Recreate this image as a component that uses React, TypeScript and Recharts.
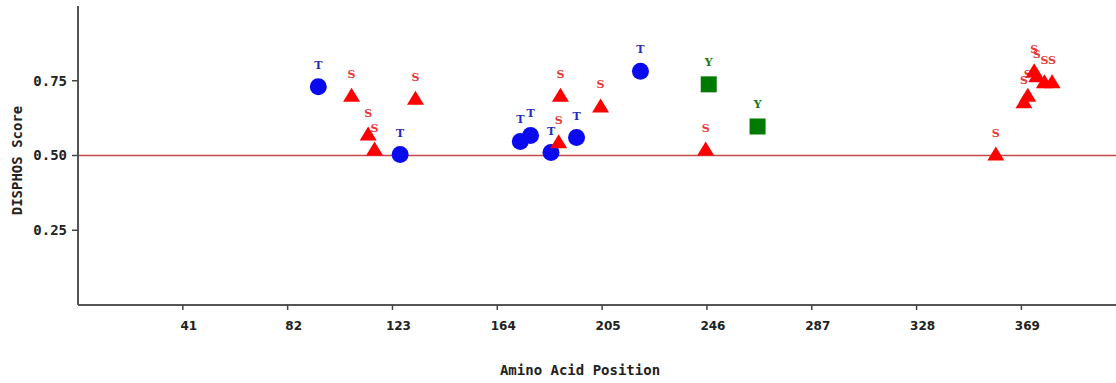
import React from 'react';
import { ScatterChart, Scatter, XAxis, YAxis, ReferenceLine, Label } from 'recharts';

// tick labels
const xTicks = [41, 82, 123, 164, 205, 246, 287, 328, 369];
const yTicks = [0.25, 0.5, 0.75];

// threonine (T) sites
const thrPositions = [94, 126, 173, 177, 185, 195, 220];
const thrScores = [0.73, 0.503, 0.547, 0.567, 0.51, 0.56, 0.782];

// serine (S) sites
const serPositions = [107, 113.5, 116, 132, 188, 188.7, 204.4, 245.5, 359, 370, 371.5, 374, 375, 378, 381];
const serScores = [0.7, 0.57, 0.52, 0.69, 0.544, 0.7, 0.664, 0.52, 0.503, 0.678, 0.7, 0.782, 0.765, 0.745, 0.745];

// tyrosine (Y) sites
const tyrPositions = [246.7, 265.8];
const tyrScores = [0.738, 0.597];

const threshold = 0.5;

const toPoints = (xs: number[], ys: number[]) => xs.map((pos, i) => ({ pos, score: ys[i] }));

const thrData = toPoints(thrPositions, thrScores);
const serData = toPoints(serPositions, serScores);
const tyrData = toPoints(tyrPositions, tyrScores);

const letterStyle = {
  fontFamily: '"DejaVu Serif", serif',
  fontWeight: 'bold' as const,
  fontSize: 11,
};

const Circle = (props: any) => {
  const { cx, cy } = props;
  return (
    <g>
      <circle cx={cx} cy={cy} r={8.5} fill="#0a0aee" />
      <text x={cx} y={cy - 18} textAnchor="middle" fill="#2a2ac0" style={letterStyle}>T</text>
    </g>
  );
};

const Triangle = (props: any) => {
  const { cx, cy } = props;
  return (
    <g>
      <polygon points={`${cx},${cy - 8} ${cx + 8.5},${cy + 6} ${cx - 8.5},${cy + 6}`} fill="#ff0000" />
      <text x={cx} y={cy - 18} textAnchor="middle" fill="#e83838" style={letterStyle}>S</text>
    </g>
  );
};

const Square = (props: any) => {
  const { cx, cy } = props;
  return (
    <g>
      <rect x={cx - 8} y={cy - 8} width={16} height={16} fill="#007a00" />
      <text x={cx} y={cy - 18} textAnchor="middle" fill="#1a7a1a" style={letterStyle}>Y</text>
    </g>
  );
};

const axisFont = {
  fontFamily: '"DejaVu Sans Mono", monospace',
  fontWeight: 'bold' as const,
  fontSize: 14,
  fill: '#222',
};

const App = () => {
  return (
    <div style={{ width: 1116, height: 383, background: '#fff' }}>
      <style>{'body{margin:0}'}</style>
      <ScatterChart width={1116} height={383} margin={{ top: 6, right: 0, bottom: 18, left: 0 }}>
        <XAxis
          type="number"
          dataKey="pos"
          domain={[0, 406]}
          ticks={xTicks}
          allowDataOverflow
          height={60}
          axisLine={{ stroke: '#555', strokeWidth: 2 }}
          tickLine={{ stroke: '#444', strokeWidth: 1.5 }}
          tickSize={5}
          tickMargin={11}
          tick={{ fontFamily: '"DejaVu Sans", sans-serif', fontWeight: 'bold', fontSize: 12, fill: '#222', dx: 6 }}
        >
          <Label
            content={(p: any) => {
              const vb = p.viewBox;
              return (
                <text x={580} y={vb.y + 70} textAnchor="middle" style={axisFont}>
                  Amino Acid Position
                </text>
              );
            }}
          />
        </XAxis>
        <YAxis
          type="number"
          dataKey="score"
          domain={[0, 1]}
          ticks={yTicks}
          width={78}
          tickFormatter={(v: number) => v.toFixed(2)}
          axisLine={{ stroke: '#555', strokeWidth: 2 }}
          tickLine={{ stroke: '#444', strokeWidth: 1.5 }}
          tickSize={6}
          tickMargin={5}
          tick={{ fontFamily: '"DejaVu Sans Mono", monospace', fontWeight: 'bold', fontSize: 14, fill: '#222' }}
        >
          <Label
            content={(p: any) => {
              const vb = p.viewBox;
              const cy = vb.y + vb.height / 2 + 5;
              return (
                <text x={22} y={cy} transform={`rotate(-90 22 ${cy})`} textAnchor="middle" style={{ ...axisFont, fontSize: 14 }}>
                  DISPHOS Score
                </text>
              );
            }}
          />
        </YAxis>
        <ReferenceLine y={threshold} stroke="#c84848" strokeWidth={1.5} />
        <Scatter data={thrData} shape={Circle} isAnimationActive={false} />
        <Scatter data={serData} shape={Triangle} isAnimationActive={false} />
        <Scatter data={tyrData} shape={Square} isAnimationActive={false} />
      </ScatterChart>
    </div>
  );
};

export default App;
